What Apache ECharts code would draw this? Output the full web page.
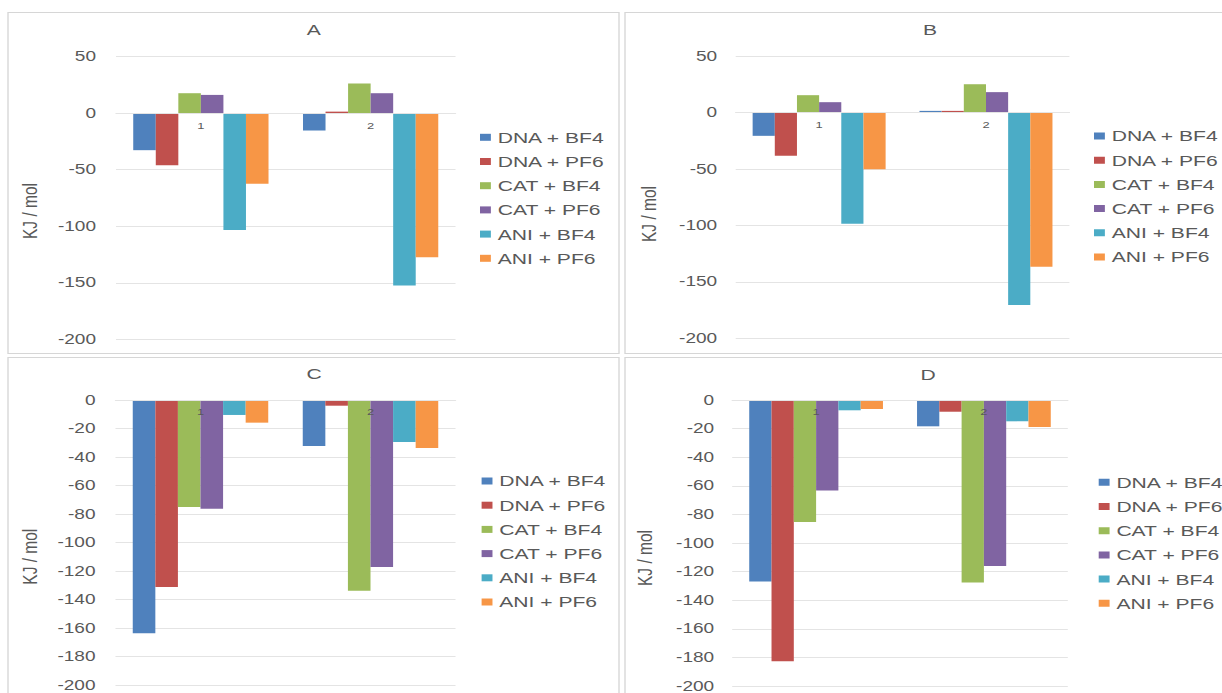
<!DOCTYPE html>
<html>
<head>
<meta charset="utf-8">
<script src="https://cdn.jsdelivr.net/npm/echarts@6/dist/echarts.min.js"></script>
<style>
  html, body { margin: 0; padding: 0; background: #fff; overflow: hidden; }
  /* the figure is drawn narrow and widened horizontally */
  #stage { position: absolute; left: 0; top: 0; width: 898.5px; height: 693px;
           transform: scaleX(1.36); transform-origin: 0 0; }
</style>
</head>
<body>
<div id="stage"></div>
<script>
// ---- data ----
const categories = ['1', '2'];
const seriesNames = ['DNA + BF4', 'DNA + PF6', 'CAT + BF4', 'CAT + PF6', 'ANI + BF4', 'ANI + PF6'];
const seriesColors = ['#4F81BD', '#C0504D', '#9BBB59', '#8064A2', '#4BACC6', '#F79646'];

// values per series (rows follow seriesNames), columns follow categories
const valuesA = [[-32.7, -15.3], [-46.0, 1.4], [17.7, 26.3], [16.2, 17.7], [-103.3, -152.5], [-62.5, -127.4]];
const valuesB = [[-20.7, 1.4], [-38.4, 1.4], [15.3, 25.0], [9.1, 18.0], [-98.6, -170.5], [-50.2, -136.6]];
const valuesC = [[-163.7, -32.3], [-131.2, -4.0], [-75.1, -133.8], [-76.3, -117.2], [-10.5, -29.5], [-15.9, -33.7]];
const valuesD = [[-127.0, -18.4], [-182.7, -8.2], [-85.3, -127.7], [-63.2, -116.1], [-7.2, -14.9], [-6.3, -18.9]];

const ticksAB = [-200, -150, -100, -50, 0, 50];
const ticksCD = [-200, -180, -160, -140, -120, -100, -80, -60, -40, -20, 0];

const panelTitles = ['A', 'B', 'C', 'D'];
const axisTitle = 'KJ / mol';

// ---- layout (page pixels, converted to the narrow drawing space) ----
const SX = 1.36;
const px = v => v / SX;
const FONT = '"Liberation Sans", Arial, sans-serif';
const TEXT = '#595959';
const GRIDLINE = '#e4e4e4';

const panels = [
  { values: valuesA, ticks: ticksAB, frame: [8, 12.5, 611, 341], grid: [116, 455.5, 56.7, 339.3],
    title: [313.7, 30], yname: [29.5, 211], legend: [480, 137.3], gap: 20 },
  { values: valuesB, ticks: ticksAB, frame: [625, 12.5, 620, 341], grid: [735.7, 1069.4, 56, 338.3],
    title: [930, 30], yname: [649, 214], legend: [1094, 136], gap: 18.5 },
  { values: valuesC, ticks: ticksCD, frame: [8, 357.5, 611, 340], grid: [115.5, 455.5, 400, 685],
    title: [314, 374], yname: [29.5, 556.7], legend: [481.6, 481], gap: 20 },
  { values: valuesD, ticks: ticksCD, frame: [625, 357.5, 620, 340], grid: [732.2, 1067.8, 400, 686],
    title: [928, 375], yname: [644.3, 558], legend: [1098.7, 482.3], gap: 18 }
];

const grids = [], xAxes = [], yAxes = [], series = [], legends = [], graphics = [];

panels.forEach((p, k) => {
  const [gl, gr, gt, gb] = p.grid;
  grids.push({ left: px(gl), top: gt, width: px(gr - gl), height: gb - gt,
               containLabel: false, outerBoundsMode: 'none' });

  const yMin = p.ticks[0], yMax = p.ticks[p.ticks.length - 1];
  // the category axis runs along the zero line of the value axis
  const zeroDrop = (gb - gt) * yMax / (yMax - yMin);

  xAxes.push({
    type: 'category', gridIndex: k, data: categories, z: 5,
    position: 'top', offset: -zeroDrop,
    axisLine: { show: true, onZero: false, lineStyle: { color: GRIDLINE, width: 1 } },
    axisTick: { show: false },
    axisLabel: { inside: true, color: TEXT, fontSize: 9.5, fontFamily: FONT, margin: 7 },
    splitLine: { show: false }
  });

  yAxes.push({
    type: 'value', gridIndex: k,
    min: yMin, max: yMax, interval: p.ticks[1] - p.ticks[0],
    axisLine: { show: false }, axisTick: { show: false },
    axisLabel: { color: TEXT, fontSize: 14, fontFamily: FONT, margin: px(p.gap) },
    splitLine: { lineStyle: { color: GRIDLINE, width: 1 } }
  });

  seriesNames.forEach((name, i) => {
    series.push({
      type: 'bar', name, xAxisIndex: k, yAxisIndex: k,
      data: p.values[i],
      barGap: '0%', barCategoryGap: '20.3%',
      itemStyle: { color: seriesColors[i] },
      emphasis: { disabled: true },
      animation: false
    });
  });

  legends.push({
    orient: 'vertical', left: px(p.legend[0]), top: p.legend[1] - 8, padding: 0,
    itemWidth: 8, itemHeight: 7, itemGap: 8.2, icon: 'rect',
    selectedMode: false, data: seriesNames,
    textStyle: { color: TEXT, fontSize: 15.5, lineHeight: 16, fontFamily: FONT }
  });

  const [fx, fy, fw, fh] = p.frame;
  graphics.push({
    type: 'rect', silent: true, z: -1,
    shape: { x: px(fx), y: fy, width: px(fw), height: fh },
    style: { fill: 'none', stroke: '#d6d6d6', lineWidth: 1 }
  });
  graphics.push({
    type: 'text', silent: true, x: px(p.title[0]), y: p.title[1],
    style: { text: panelTitles[k], fill: TEXT, font: '15.5px ' + FONT,
             textAlign: 'center', verticalAlign: 'middle' }
  });
  graphics.push({
    type: 'text', silent: true, x: px(p.yname[0]), y: p.yname[1], rotation: Math.PI / 2,
    style: { text: axisTitle, fill: TEXT, font: '15.5px ' + FONT,
             textAlign: 'center', verticalAlign: 'middle' }
  });
});

const chart = echarts.init(document.getElementById('stage'), null, { renderer: 'svg' });
chart.setOption({
  backgroundColor: '#ffffff',
  animation: false,
  textStyle: { fontFamily: FONT },
  grid: grids,
  xAxis: xAxes,
  yAxis: yAxes,
  legend: legends,
  graphic: graphics,
  series
});
</script>
</body>
</html>
